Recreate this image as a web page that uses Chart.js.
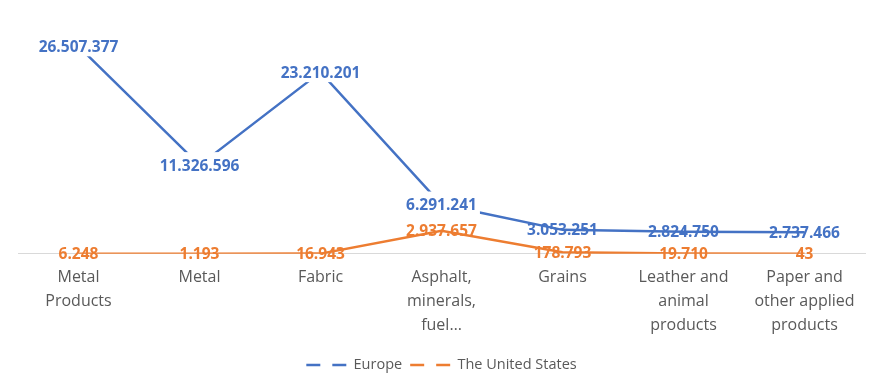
<!DOCTYPE html>
<html lang="en">
<head>
    <meta charset="UTF-8">
    <title>Europe vs The United States</title>
    <script src="https://cdn.jsdelivr.net/npm/chart.js"></script>
    <style>
        html, body { margin: 0; padding: 0; background: #fff; }
        .grafico { width: 882px; height: 387px; }
    </style>
</head>
<body>
    <div class="grafico">
        <canvas id="grafico_linha" width="882" height="387"></canvas>
    </div>

<script>
    // dados
    const categorias = [
        ['Metal', 'Products'],
        ['Metal'],
        ['Fabric'],
        ['Asphalt,', 'minerals,', 'fuel…'],
        ['Grains'],
        ['Leather and', 'animal', 'products'],
        ['Paper and', 'other applied', 'products']
    ];
    const europa = [26507377, 11326596, 23210201, 6291241, 3053251, 2824750, 2737466];
    const eua = [6248, 1193, 16943, 2937657, 178793, 19710, 43];

    const azul = '#4472C4';
    const laranja = '#ED7D31';
    const cinza = '#595959';

    function formatar(v) {
        return String(v).replace(/\B(?=(\d{3})+(?!\d))/g, '.');
    }

    // rotulos de dados desenhados por cima das linhas
    const rotulos = {
        id: 'rotulos',
        afterDatasetsDraw(chart) {
            const ctx = chart.ctx;
            ctx.save();
            ctx.font = 'bold 15.5px "Open Sans"';
            ctx.textAlign = 'center';
            ctx.textBaseline = 'middle';
            chart.data.datasets.forEach((ds, i) => {
                const meta = chart.getDatasetMeta(i);
                meta.data.forEach((pt, j) => {
                    const txt = formatar(ds.data[j]);
                    if (i === 0 && j < 4) {
                        const w = ctx.measureText(txt).width;
                        ctx.fillStyle = '#fff';
                        ctx.fillRect(pt.x - w / 2 - 3, pt.y - 13, w + 6, 23);
                    }
                    ctx.fillStyle = ds.borderColor;
                    ctx.fillText(txt, pt.x, pt.y + 1);
                });
            });
            ctx.restore();
        }
    };

    const ctx = document.getElementById('grafico_linha').getContext('2d');

    const grafico = new Chart(ctx, {
        type: 'line',
        data: {
            labels: categorias,
            datasets: [
                {
                    label: 'Europe',
                    data: europa,
                    borderColor: azul,
                    backgroundColor: azul,
                    borderWidth: 2.5,
                    pointRadius: 0,
                    fill: false,
                    tension: 0
                },
                {
                    label: 'The United States',
                    data: eua,
                    borderColor: laranja,
                    backgroundColor: laranja,
                    borderWidth: 2.5,
                    pointRadius: 0,
                    fill: false,
                    tension: 0
                }
            ]
        },
        options: {
            responsive: false,
            animation: false,
            layout: {
                padding: { left: 18, right: 17, top: 19, bottom: 4.75 }
            },
            scales: {
                x: {
                    offset: true,
                    grid: { display: false, drawTicks: false },
                    border: { display: true, color: '#D9D9D9', width: 1 },
                    ticks: {
                        color: cinza,
                        maxRotation: 0,
                        autoSkip: false,
                        padding: 12,
                        font: { family: '"Open Sans"', size: 16, lineHeight: 1.5 }
                    }
                },
                y: {
                    display: false,
                    min: 0,
                    max: 30000000
                }
            },
            plugins: {
                tooltip: { enabled: false },
                legend: {
                    display: true,
                    position: 'bottom',
                    labels: {
                        color: cinza,
                        usePointStyle: true,
                        pointStyle: 'line',
                        pointStyleWidth: 40,
                        padding: 8,
                        font: { family: '"Open Sans"', size: 14.5 },
                        generateLabels(chart) {
                            const itens = Chart.defaults.plugins.legend.labels.generateLabels(chart);
                            itens.forEach(it => {
                                it.lineDash = [14, 12];
                                it.lineWidth = 2.5;
                                it.fontColor = cinza;
                            });
                            return itens;
                        }
                    }
                }
            }
        },
        plugins: [rotulos]
    });
</script>
</body>
</html>
